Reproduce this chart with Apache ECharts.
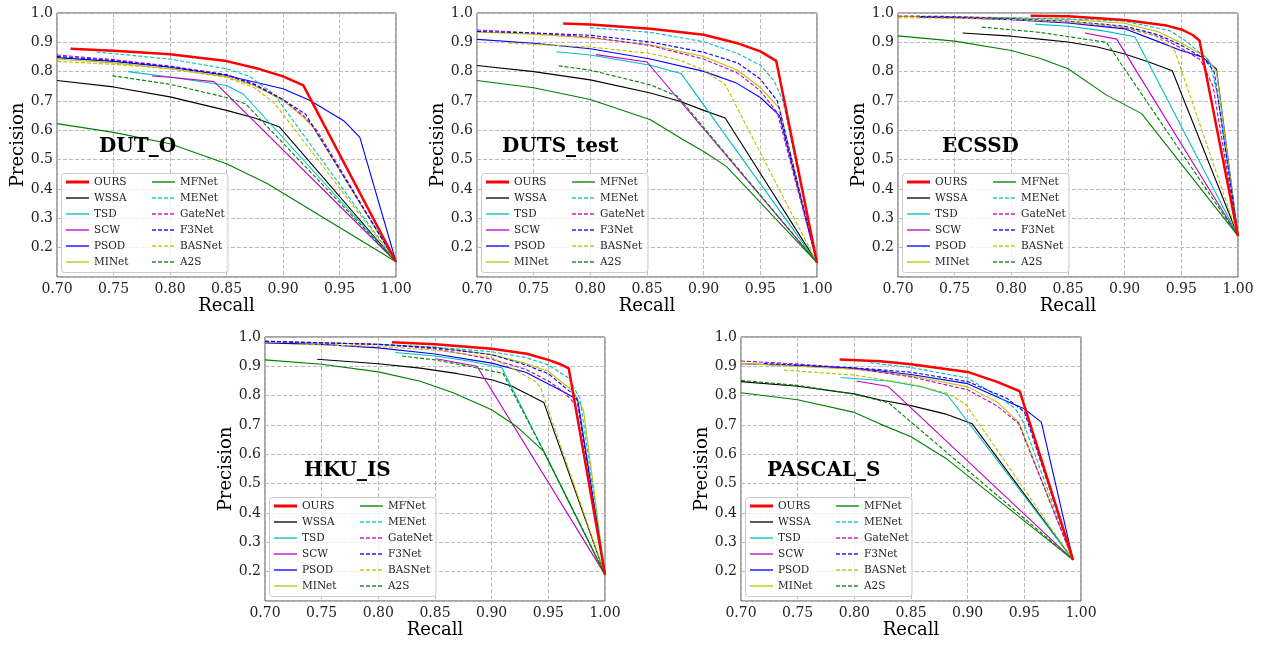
<!DOCTYPE html>
<html><head><meta charset="utf-8">
<script src="https://cdn.jsdelivr.net/npm/echarts@6/dist/echarts.min.js"></script>
<style>html,body{margin:0;padding:0;background:#fff}#c{width:1268px;height:646px}</style>
</head><body><div id="c"></div>
<script>
// ---------- names ----------
const datasetNames = ['DUT_O', 'DUTS_test', 'ECSSD', 'HKU_IS', 'PASCAL_S'];
const methodNames = ['OURS', 'WSSA', 'TSD', 'SCW', 'PSOD', 'MINet', 'MFNet', 'MENet', 'GateNet', 'F3Net', 'BASNet', 'A2S'];
const recallTicks = [0.70, 0.75, 0.80, 0.85, 0.90, 0.95, 1.00];
const precisionTicks = [0.2, 0.3, 0.4, 0.5, 0.6, 0.7, 0.8, 0.9, 1.0];

// ---------- DUT_O  [recall, precision] ----------
const DUTO_OURS = [[0.712,0.878],[0.75,0.871],[0.80,0.859],[0.85,0.836],[0.88,0.808],[0.90,0.784],[0.918,0.753],[1.0,0.152]];
const DUTO_WSSA = [[0.70,0.770],[0.75,0.748],[0.80,0.714],[0.85,0.668],[0.875,0.642],[0.897,0.611],[1.0,0.152]];
const DUTO_TSD = [[0.763,0.800],[0.80,0.782],[0.85,0.753],[0.865,0.723],[1.0,0.152]];
const DUTO_SCW = [[0.784,0.785],[0.80,0.781],[0.839,0.766],[1.0,0.152]];
const DUTO_PSOD = [[0.70,0.848],[0.75,0.835],[0.80,0.815],[0.85,0.787],[0.90,0.742],[0.924,0.702],[0.954,0.632],[0.968,0.576],[1.0,0.152]];
const DUTO_MINet = [[0.70,0.843],[0.75,0.830],[0.80,0.810],[0.85,0.783],[0.875,0.752],[0.90,0.702],[0.918,0.645],[0.927,0.608],[1.0,0.152]];
const DUTO_MFNet = [[0.70,0.623],[0.75,0.593],[0.80,0.554],[0.85,0.486],[0.886,0.419],[1.0,0.152]];
const DUTO_MENet = [[0.735,0.867],[0.80,0.843],[0.85,0.810],[0.87,0.785],[0.892,0.723],[1.0,0.152]];
const DUTO_GateNet = [[0.70,0.857],[0.75,0.841],[0.80,0.819],[0.85,0.790],[0.875,0.758],[0.90,0.705],[0.918,0.650],[0.930,0.600],[1.0,0.152]];
const DUTO_F3Net = [[0.70,0.852],[0.75,0.838],[0.80,0.817],[0.85,0.789],[0.875,0.755],[0.90,0.705],[0.920,0.655],[1.0,0.152]];
const DUTO_BASNet = [[0.70,0.835],[0.75,0.825],[0.80,0.810],[0.85,0.780],[0.875,0.745],[0.893,0.690],[1.0,0.152]];
const DUTO_A2S = [[0.749,0.786],[0.80,0.757],[0.85,0.712],[0.867,0.690],[1.0,0.152]];

// ---------- DUTS_test ----------
const DUTS_OURS = [[0.776,0.964],[0.80,0.961],[0.853,0.946],[0.90,0.926],[0.929,0.898],[0.95,0.869],[0.964,0.837],[1.0,0.149]];
const DUTS_WSSA = [[0.70,0.821],[0.75,0.800],[0.80,0.772],[0.853,0.727],[0.879,0.699],[0.90,0.668],[0.919,0.642],[1.0,0.149]];
const DUTS_TSD = [[0.770,0.868],[0.80,0.857],[0.853,0.822],[0.880,0.794],[1.0,0.149]];
const DUTS_SCW = [[0.805,0.858],[0.850,0.833],[1.0,0.149]];
const DUTS_PSOD = [[0.70,0.910],[0.75,0.897],[0.80,0.878],[0.853,0.843],[0.90,0.801],[0.929,0.761],[0.95,0.712],[0.967,0.650],[1.0,0.149]];
const DUTS_MINet = [[0.70,0.935],[0.75,0.928],[0.80,0.915],[0.853,0.892],[0.90,0.852],[0.93,0.805],[0.95,0.746],[0.967,0.676],[1.0,0.149]];
const DUTS_MFNet = [[0.70,0.770],[0.75,0.745],[0.80,0.705],[0.853,0.636],[0.882,0.568],[0.90,0.528],[0.92,0.477],[1.0,0.149]];
const DUTS_MENet = [[0.80,0.950],[0.853,0.934],[0.90,0.902],[0.93,0.862],[0.95,0.822],[0.962,0.770],[0.970,0.700],[1.0,0.149]];
const DUTS_GateNet = [[0.70,0.942],[0.75,0.932],[0.80,0.918],[0.853,0.889],[0.90,0.843],[0.93,0.795],[0.95,0.735],[0.965,0.660],[1.0,0.149]];
const DUTS_F3Net = [[0.70,0.937],[0.75,0.932],[0.80,0.924],[0.853,0.901],[0.90,0.866],[0.93,0.830],[0.95,0.775],[0.965,0.700],[1.0,0.149]];
const DUTS_BASNet = [[0.728,0.897],[0.80,0.884],[0.853,0.862],[0.88,0.838],[0.90,0.805],[0.919,0.756],[1.0,0.149]];
const DUTS_A2S = [[0.772,0.820],[0.80,0.805],[0.853,0.755],[0.877,0.716],[1.0,0.149]];

// ---------- ECSSD ----------
const ECSSD_OURS = [[0.817,0.991],[0.85,0.989],[0.90,0.976],[0.937,0.957],[0.95,0.944],[0.96,0.925],[0.966,0.906],[1.0,0.24]];
const ECSSD_WSSA = [[0.757,0.932],[0.80,0.921],[0.825,0.911],[0.85,0.901],[0.875,0.885],[0.90,0.860],[0.922,0.832],[0.942,0.803],[1.0,0.24]];
const ECSSD_TSD = [[0.821,0.962],[0.85,0.955],[0.88,0.940],[0.909,0.919],[1.0,0.24]];
const ECSSD_SCW = [[0.865,0.932],[0.893,0.911],[1.0,0.24]];
const ECSSD_PSOD = [[0.718,0.986],[0.75,0.984],[0.80,0.977],[0.85,0.966],[0.90,0.946],[0.928,0.905],[0.949,0.873],[0.969,0.849],[0.981,0.809],[1.0,0.24]];
const ECSSD_MINet = [[0.70,0.988],[0.75,0.987],[0.80,0.984],[0.85,0.978],[0.90,0.965],[0.93,0.935],[0.95,0.898],[0.972,0.850],[0.981,0.800],[1.0,0.24]];
const ECSSD_MFNet = [[0.70,0.922],[0.75,0.904],[0.80,0.872],[0.825,0.846],[0.85,0.810],[0.884,0.720],[0.915,0.657],[1.0,0.24]];
const ECSSD_MENet = [[0.78,0.985],[0.85,0.980],[0.90,0.972],[0.94,0.940],[0.954,0.905],[0.975,0.835],[0.982,0.720],[1.0,0.24]];
const ECSSD_GateNet = [[0.70,0.990],[0.75,0.988],[0.80,0.980],[0.85,0.968],[0.90,0.950],[0.93,0.920],[0.95,0.880],[0.967,0.840],[0.978,0.750],[1.0,0.24]];
const ECSSD_F3Net = [[0.72,0.988],[0.80,0.980],[0.85,0.972],[0.90,0.955],[0.93,0.925],[0.95,0.890],[0.970,0.845],[0.979,0.800],[1.0,0.24]];
const ECSSD_BASNet = [[0.70,0.984],[0.75,0.982],[0.80,0.978],[0.85,0.970],[0.90,0.952],[0.925,0.925],[0.935,0.903],[0.944,0.873],[1.0,0.24]];
const ECSSD_A2S = [[0.774,0.952],[0.825,0.934],[0.884,0.900],[1.0,0.24]];

// ---------- HKU_IS ----------
const HKU_OURS = [[0.812,0.982],[0.85,0.975],[0.90,0.960],[0.931,0.943],[0.95,0.922],[0.96,0.908],[0.968,0.893],[1.0,0.19]];
const HKU_WSSA = [[0.746,0.924],[0.80,0.909],[0.837,0.894],[0.87,0.875],[0.90,0.854],[0.918,0.832],[0.946,0.777],[1.0,0.19]];
const HKU_TSD = [[0.815,0.947],[0.85,0.935],[0.88,0.918],[0.909,0.895],[0.946,0.610],[1.0,0.19]];
const HKU_SCW = [[0.851,0.926],[0.887,0.900],[1.0,0.19]];
const HKU_PSOD = [[0.70,0.980],[0.75,0.975],[0.80,0.963],[0.85,0.942],[0.90,0.911],[0.93,0.880],[0.95,0.840],[0.965,0.810],[0.976,0.785],[1.0,0.19]];
const HKU_MINet = [[0.70,0.983],[0.75,0.980],[0.80,0.975],[0.85,0.965],[0.90,0.940],[0.93,0.910],[0.95,0.883],[0.972,0.815],[0.981,0.750],[1.0,0.19]];
const HKU_MFNet = [[0.70,0.922],[0.75,0.907],[0.80,0.881],[0.837,0.849],[0.866,0.810],[0.90,0.752],[0.922,0.695],[0.946,0.610],[1.0,0.19]];
const HKU_MENet = [[0.80,0.975],[0.85,0.965],[0.90,0.950],[0.93,0.930],[0.95,0.905],[0.968,0.860],[0.978,0.790],[1.0,0.19]];
const HKU_GateNet = [[0.70,0.986],[0.80,0.975],[0.85,0.960],[0.90,0.924],[0.93,0.890],[0.95,0.850],[0.963,0.815],[0.974,0.770],[1.0,0.19]];
const HKU_F3Net = [[0.70,0.985],[0.80,0.975],[0.85,0.963],[0.90,0.940],[0.93,0.905],[0.95,0.875],[0.975,0.795],[1.0,0.19]];
const HKU_BASNet = [[0.73,0.975],[0.80,0.968],[0.85,0.955],[0.90,0.930],[0.922,0.885],[0.938,0.850],[0.943,0.830],[1.0,0.19]];
const HKU_A2S = [[0.821,0.935],[0.85,0.922],[0.88,0.900],[0.910,0.876],[0.946,0.610],[1.0,0.19]];

// ---------- PASCAL_S ----------
const PASCAL_OURS = [[0.787,0.923],[0.823,0.917],[0.85,0.907],[0.90,0.881],[0.926,0.847],[0.946,0.815],[0.993,0.24]];
const PASCAL_WSSA = [[0.70,0.848],[0.75,0.832],[0.80,0.806],[0.823,0.785],[0.85,0.766],[0.88,0.738],[0.904,0.704],[0.993,0.24]];
const PASCAL_TSD = [[0.788,0.862],[0.83,0.850],[0.86,0.830],[0.882,0.803],[0.993,0.24]];
const PASCAL_SCW = [[0.802,0.850],[0.830,0.831],[0.993,0.24]];
const PASCAL_PSOD = [[0.70,0.909],[0.75,0.903],[0.80,0.893],[0.823,0.884],[0.85,0.872],[0.90,0.841],[0.935,0.780],[0.95,0.755],[0.965,0.710],[0.993,0.24]];
const PASCAL_MINet = [[0.70,0.910],[0.80,0.890],[0.85,0.868],[0.90,0.830],[0.926,0.778],[0.945,0.710],[0.993,0.24]];
const PASCAL_MFNet = [[0.70,0.810],[0.75,0.786],[0.80,0.743],[0.823,0.703],[0.85,0.660],[0.882,0.583],[0.993,0.24]];
const PASCAL_MENet = [[0.814,0.912],[0.85,0.896],[0.90,0.860],[0.926,0.800],[0.942,0.756],[0.949,0.710],[0.993,0.24]];
const PASCAL_GateNet = [[0.70,0.918],[0.75,0.908],[0.80,0.893],[0.85,0.864],[0.90,0.820],[0.926,0.765],[0.945,0.705],[0.993,0.24]];
const PASCAL_F3Net = [[0.72,0.910],[0.80,0.895],[0.85,0.880],[0.90,0.848],[0.935,0.790],[0.95,0.745],[0.993,0.24]];
const PASCAL_BASNet = [[0.738,0.887],[0.80,0.870],[0.85,0.840],[0.882,0.808],[0.898,0.772],[0.993,0.24]];
const PASCAL_A2S = [[0.70,0.852],[0.75,0.835],[0.80,0.805],[0.83,0.776],[0.993,0.24]];

const panelData = [
  [DUTO_OURS, DUTO_WSSA, DUTO_TSD, DUTO_SCW, DUTO_PSOD, DUTO_MINet, DUTO_MFNet, DUTO_MENet, DUTO_GateNet, DUTO_F3Net, DUTO_BASNet, DUTO_A2S],
  [DUTS_OURS, DUTS_WSSA, DUTS_TSD, DUTS_SCW, DUTS_PSOD, DUTS_MINet, DUTS_MFNet, DUTS_MENet, DUTS_GateNet, DUTS_F3Net, DUTS_BASNet, DUTS_A2S],
  [ECSSD_OURS, ECSSD_WSSA, ECSSD_TSD, ECSSD_SCW, ECSSD_PSOD, ECSSD_MINet, ECSSD_MFNet, ECSSD_MENet, ECSSD_GateNet, ECSSD_F3Net, ECSSD_BASNet, ECSSD_A2S],
  [HKU_OURS, HKU_WSSA, HKU_TSD, HKU_SCW, HKU_PSOD, HKU_MINet, HKU_MFNet, HKU_MENet, HKU_GateNet, HKU_F3Net, HKU_BASNet, HKU_A2S],
  [PASCAL_OURS, PASCAL_WSSA, PASCAL_TSD, PASCAL_SCW, PASCAL_PSOD, PASCAL_MINet, PASCAL_MFNet, PASCAL_MENet, PASCAL_GateNet, PASCAL_F3Net, PASCAL_BASNet, PASCAL_A2S]
];

// ---------- styles / layout ----------
const methodColors = ['#ff0000', '#000000', '#00bfbf', '#bf00bf', '#0000ff', '#bfbf00', '#008000', '#00bfbf', '#bf00bf', '#0000ff', '#bfbf00', '#008000'];
const methodDashed = [false, false, false, false, false, false, false, true, true, true, true, true];
const grids = [
  {left: 57, top: 13, width: 339, height: 264},
  {left: 477, top: 13, width: 340, height: 264},
  {left: 898, top: 13, width: 340, height: 264},
  {left: 265, top: 337, width: 340, height: 264},
  {left: 741, top: 337, width: 340, height: 264}
];
const titlePos = [[99, 137], [502, 137], [942, 137], [304, 461], [767, 461]];
const FONT = 'DejaVu Serif';

const series = [];
panelData.forEach((arrs, pi) => {
  arrs.forEach((d, mi) => {
    series.push({
      type: 'line', name: methodNames[mi], xAxisIndex: pi, yAxisIndex: pi,
      data: d, symbol: 'none', silent: true, animation: false,
      z: mi === 0 ? 3 : 2,
      itemStyle: {color: methodColors[mi]},
      lineStyle: {color: methodColors[mi], width: mi === 0 ? 2.5 : 1.1, type: methodDashed[mi] ? [4, 2] : 'solid'}
    });
  });
});

const legendItem = (mi) => ({
  name: methodNames[mi],
  itemStyle: {opacity: 0},
  lineStyle: {width: mi === 0 ? 3 : 2, opacity: mi === 0 ? 1 : 0.65}
});
const legends = [];
const rects = [];
grids.forEach((g) => {
  const boxTop = g.top + g.height - 5 - 99;
  rects.push({type: 'rect', z: 3, silent: true,
    shape: {x: g.left + 4.5, y: boxTop + 0.5, width: 166.5, height: 99, r: 3},
    style: {fill: 'rgba(255,255,255,0.8)', stroke: '#cccccc', lineWidth: 1}});
  const common = {orient: 'vertical', top: boxTop + 3, itemGap: 4, itemWidth: 23, itemHeight: 12,
    padding: 0, selectedMode: false, z: 5,
    textStyle: {fontFamily: FONT, fontSize: 10.5, color: '#222', lineHeight: 12}};
  legends.push(Object.assign({}, common, {left: g.left + 7.5, data: [0,1,2,3,4,5].map(legendItem)}));
  legends.push(Object.assign({}, common, {left: g.left + 94, data: [6,7,8,9,10,11].map(legendItem)}));
});

const option = {
  backgroundColor: '#ffffff',
  animation: false,
  title: datasetNames.map((n, i) => ({text: n, left: titlePos[i][0], top: titlePos[i][1], padding: 0,
    textStyle: {fontFamily: FONT, fontWeight: 'bold', fontSize: 20, color: '#000'}})),
  grid: grids.map(g => Object.assign({show: true, borderColor: '#4d4d4d', borderWidth: 1, backgroundColor: 'transparent', containLabel: false, outerBoundsMode: 'none'}, g)),
  xAxis: grids.map((g, i) => ({
    type: 'value', gridIndex: i, min: recallTicks[0], max: recallTicks[recallTicks.length - 1], interval: 0.05,
    axisLine: {show: false}, axisTick: {show: false},
    axisLabel: {formatter: v => v.toFixed(2), fontFamily: FONT, fontSize: 14, color: '#222', margin: 5, showMinLabel: true, showMaxLabel: true},
    splitLine: {show: true, lineStyle: {type: [4, 2], color: '#bbbbbb', width: 1}},
    name: 'Recall', nameLocation: 'middle', nameGap: 19,
    nameTextStyle: {fontFamily: FONT, fontSize: 18, color: '#000'}
  })),
  yAxis: grids.map((g, i) => ({
    type: 'value', gridIndex: i, min: 0.1, max: precisionTicks[precisionTicks.length - 1], interval: 0.1,
    axisLine: {show: false}, axisTick: {show: false},
    axisLabel: {formatter: v => (v < precisionTicks[0] - 0.05 ? '' : v.toFixed(1)), fontFamily: FONT, fontSize: 14, color: '#222', margin: 4, showMinLabel: true, showMaxLabel: true},
    splitLine: {show: true, lineStyle: {type: [4, 2], color: '#bbbbbb', width: 1}},
    name: 'Precision', nameLocation: 'middle', nameGap: 30, nameRotate: 90,
    nameTextStyle: {fontFamily: FONT, fontSize: 18, color: '#000'}
  })),
  legend: legends,
  graphic: {elements: rects},
  series: series
};

const chart = echarts.init(document.getElementById('c'), null, {renderer: 'canvas'});
chart.setOption(option);
</script></body></html>
